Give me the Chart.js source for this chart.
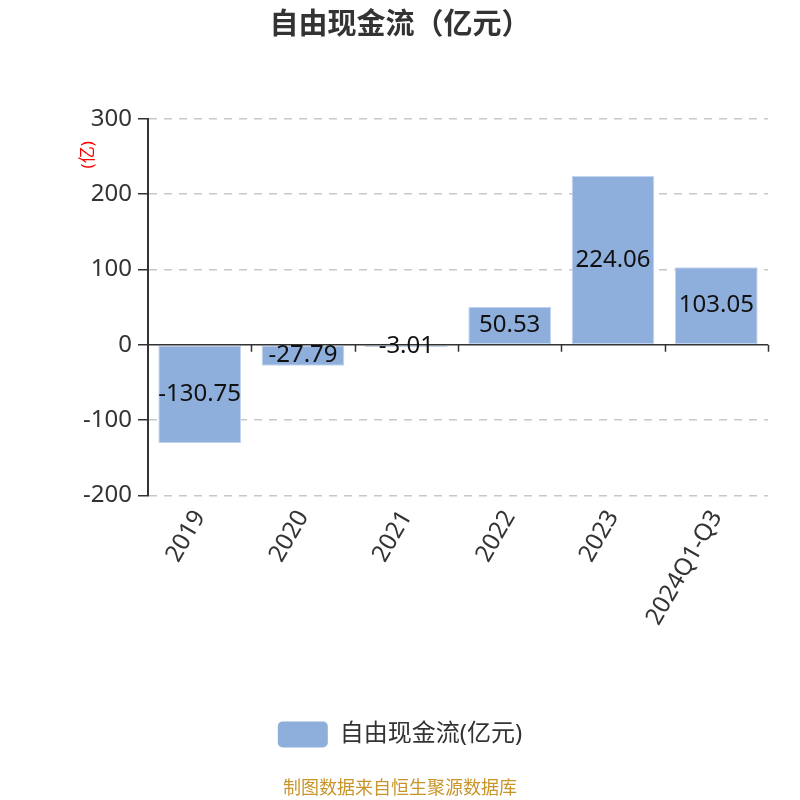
<!DOCTYPE html>
<html>
  <head>
    <meta charset="utf-8">
    <title>自由现金流</title>
    <style>
      html, body { margin: 0; padding: 0; background: #fff; }
      #wrap { width: 800px; height: 800px; }
    </style>
  </head>
  <body>
    <script src="https://cdn.jsdelivr.net/npm/chart.js"></script>

    <div id="wrap"><canvas id="myChart" width="800" height="800"></canvas></div>

    <script>
      // chart data
      const categories = ['2019', '2020', '2021', '2022', '2023', '2024Q1-Q3'];
      const freeCashFlow = [-130.75, -27.79, -3.01, 50.53, 224.06, 103.05];
      const yTicks = [300, 200, 100, 0, -100, -200];

      const FONT = '"Noto Sans", "Noto Sans CJK SC", sans-serif';
      const BAR_COLOR = '#8eaedb';

      // value labels in the middle of each bar, and the solid zero axis with its ticks
      const barDecor = {
        id: 'barDecor',
        afterDatasetsDraw(chart) {
          const ctx = chart.ctx;
          const area = chart.chartArea;
          const x = chart.scales.x;
          const y = chart.scales.y;
          const y0 = y.getPixelForValue(0);

          ctx.save();
          // zero line
          ctx.strokeStyle = '#333';
          ctx.lineWidth = 1.5;
          ctx.beginPath();
          ctx.moveTo(area.left, y0);
          ctx.lineTo(area.right, y0);
          ctx.stroke();
          // category boundary ticks pointing down
          const step = (area.right - area.left) / categories.length;
          for (let i = 1; i <= categories.length; i++) {
            const px = Math.round(x.getPixelForValue(i - 1) + step / 2) + 0.5;
            ctx.beginPath();
            ctx.moveTo(px, y0);
            ctx.lineTo(px, y0 + 7);
            ctx.stroke();
          }

          // labels
          ctx.fillStyle = '#111';
          ctx.font = '24px ' + FONT;
          ctx.textAlign = 'center';
          ctx.textBaseline = 'middle';
          chart.getDatasetMeta(0).data.forEach((bar, i) => {
            ctx.fillText(freeCashFlow[i].toFixed(2), bar.x, (bar.y + bar.base) / 2);
          });

          // unit label of y axis
          ctx.fillStyle = '#ff0000';
          ctx.font = '17px ' + FONT;
          ctx.translate(area.left - 60, area.top + 36);
          ctx.rotate(-Math.PI / 2);
          ctx.fillText('(亿)', 0, 0);
          ctx.restore();
        }
      };

      const ctx = document.getElementById('myChart').getContext('2d');
      const chart = new Chart(ctx, {
        type: 'bar',
        data: {
          labels: categories,
          datasets: [{
            label: '自由现金流(亿元)',
            data: freeCashFlow,
            backgroundColor: BAR_COLOR,
            borderColor: '#c3d4ee',
            borderWidth: 1,
            borderSkipped: false,
            barPercentage: 0.8,
            categoryPercentage: 1.0,
          }],
        },
        options: {
          responsive: false,
          animation: false,
          devicePixelRatio: 1,
          layout: { padding: 0 },
          plugins: {
            title: {
              display: true,
              text: '自由现金流（亿元）',
              color: '#333',
              font: { family: FONT, size: 29, weight: 'bold' },
              padding: { top: 8, bottom: 76 },
            },
            subtitle: {
              display: true,
              position: 'bottom',
              text: '制图数据来自恒生聚源数据库',
              color: '#c9952b',
              font: { family: FONT, size: 18 },
              padding: { top: 21, bottom: 0 },
            },
            legend: {
              position: 'bottom',
              labels: {
                color: '#333',
                font: { family: FONT, size: 24 },
                boxWidth: 50,
                boxHeight: 26,
                useBorderRadius: true,
                borderRadius: 5,
                padding: 10,
                generateLabels: () => [{
                  text: '自由现金流(亿元)',
                  fillStyle: BAR_COLOR,
                  strokeStyle: BAR_COLOR,
                  lineWidth: 0,
                  borderRadius: 5,
                  fontColor: '#333',
                  datasetIndex: 0,
                }],
              },
            },
            tooltip: { enabled: false },
          },
          scales: {
            x: {
              offset: true,
              grid: { display: false },
              border: { display: false },
              ticks: {
                color: '#333',
                font: { family: FONT, size: 24 },
                minRotation: 60,
                maxRotation: 60,
                padding: 2,
              },
              afterFit(scale) { scale.height = 216; },
            },
            y: {
              min: -200,
              max: 300,
              afterBuildTicks(scale) {
                scale.ticks = yTicks.map(v => ({ value: v }));
              },
              grid: {
                color: c => (c.tick && c.tick.value === 0 ? 'rgba(0,0,0,0)' : '#c8c8c8'),
                lineWidth: 1.5,
                tickColor: '#333',
                tickLength: 10,
                tickWidth: 1.5,
              },
              border: { display: true, color: '#333', width: 2, dash: [8, 7] },
              ticks: {
                color: '#333',
                font: { family: FONT, size: 24 },
                padding: 6,
              },
              afterFit(scale) { scale.width = 148; },
            },
            // empty right-hand spacer so the chart area ends where the reference does
            ySpacer: {
              position: 'right',
              min: -200,
              max: 300,
              grid: { display: false },
              border: { display: false },
              ticks: { display: false },
              afterFit(scale) { scale.width = 32; },
            },
          },
        },
        plugins: [barDecor],
      });
    </script>
  </body>
</html>
